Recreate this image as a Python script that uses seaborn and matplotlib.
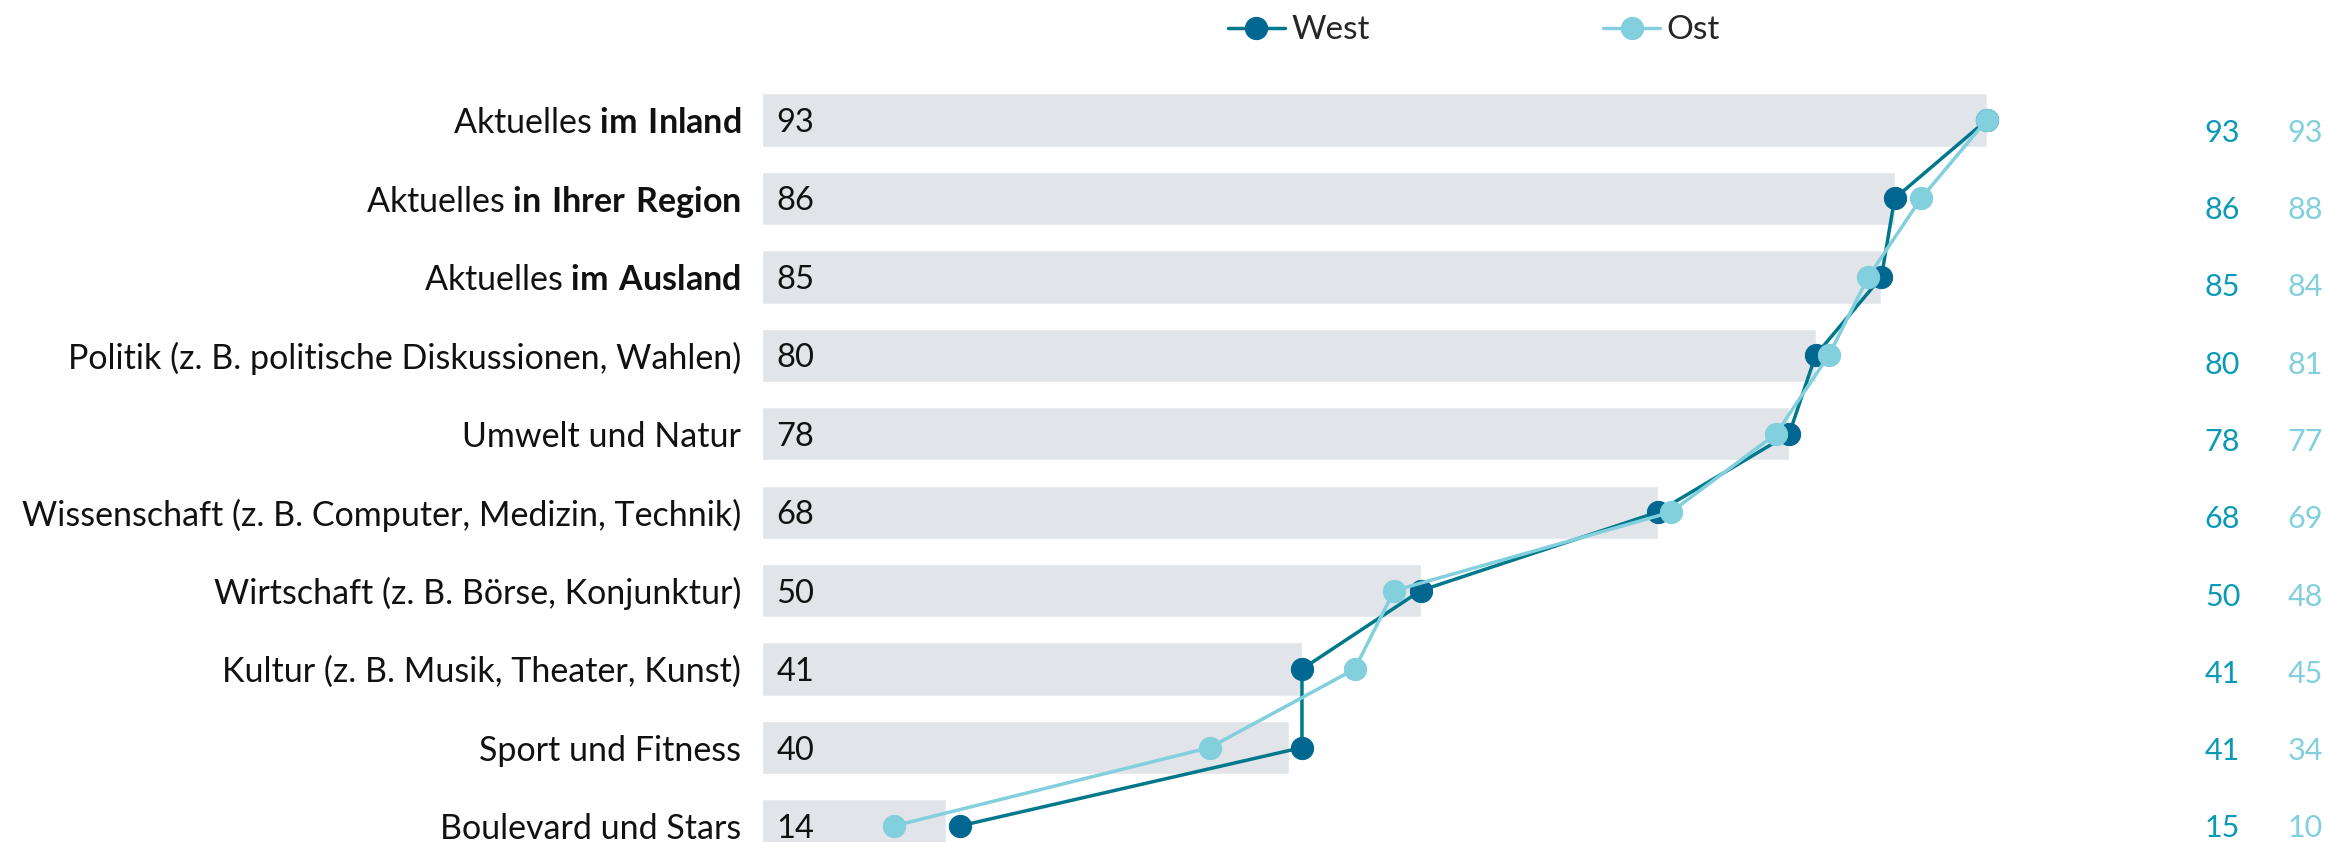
import matplotlib
matplotlib.use('Agg')
import numpy as np
import pandas as pd
import matplotlib.pyplot as plt
import seaborn as sns

# data
categories = [
    "Aktuelles im Inland",
    "Aktuelles in Ihrer Region",
    "Aktuelles im Ausland",
    "Politik (z. B. politische Diskussionen, Wahlen)",
    "Umwelt und Natur",
    "Wissenschaft (z. B. Computer, Medizin, Technik)",
    "Wirtschaft (z. B. Börse, Konjunktur)",
    "Kultur (z. B. Musik, Theater, Kunst)",
    "Sport und Fitness",
    "Boulevard und Stars",
]
tick_labels = [
    r"Aktuelles $\bf{im\ Inland}$",
    r"Aktuelles $\bf{in\ Ihrer\ Region}$",
    r"Aktuelles $\bf{im\ Ausland}$",
    "Politik (z. B. politische Diskussionen, Wahlen)",
    "Umwelt und Natur",
    "Wissenschaft (z. B. Computer, Medizin, Technik)",
    "Wirtschaft (z. B. Börse, Konjunktur)",
    "Kultur (z. B. Musik, Theater, Kunst)",
    "Sport und Fitness",
    "Boulevard und Stars",
]
gesamt = [93, 86, 85, 80, 78, 68, 50, 41, 40, 14]
west = [93, 86, 85, 80, 78, 68, 50, 41, 41, 15]
ost = [93, 88, 84, 81, 77, 69, 48, 45, 34, 10]

sns.set_theme(style="white")
plt.rcParams['font.family'] = ['Lato', 'DejaVu Sans']
plt.rcParams['mathtext.fontset'] = 'custom'
plt.rcParams['mathtext.rm'] = 'Lato'
plt.rcParams['mathtext.bf'] = 'Lato:bold'

BAR = "#E1E4E9"
WEST_LINE = "#00788C"
WEST_MARK = "#006890"
OST = "#82CFDD"
WEST_TXT = "#0A9AB5"
FS = 24.5

df = pd.DataFrame({"Kategorie": categories, "Gesamt": gesamt})
pos = np.arange(len(categories))

fig = plt.figure(figsize=(23.25, 8.42), dpi=100)
ax = fig.add_axes([762 / 2325, 0.0, 1 - 762 / 2325, (842 - 80) / 842])

sns.barplot(data=df, x="Gesamt", y="Kategorie", color=BAR, width=0.68,
            saturation=1, ax=ax, zorder=1)

sns.lineplot(x=west, y=pos, sort=False, estimator=None, color=WEST_LINE,
             linewidth=2.5, marker="o", markersize=16, markerfacecolor=WEST_MARK,
             markeredgecolor=WEST_MARK, ax=ax, zorder=3, label="West")
sns.lineplot(x=ost, y=pos, sort=False, estimator=None, color=OST,
             linewidth=2.5, marker="o", markersize=16, markerfacecolor=OST,
             markeredgecolor=OST, ax=ax, zorder=4, label="Ost")

ax.set_xlim(0, 1563 / 13.17)
ax.set_ylim(9 + 16 / 78.44, -40 / 78.44)
ax.set_yticks(pos)
ax.set_yticklabels(tick_labels, fontsize=FS, color="#111111")
ax.tick_params(axis="y", length=0, pad=15)
ax.set_xticks([])
ax.set_xlabel("")
ax.set_ylabel("")
for s in ax.spines.values():
    s.set_visible(False)

# values inside the bars
for i, v in enumerate(gesamt):
    ax.text(1.1, i, str(v), ha="left", va="center_baseline", fontsize=23.5,
            color="#111111", zorder=5)

# right-hand value columns (slightly tighter row spacing than the bars)
n = len(categories)
for i, (w, o) in enumerate(zip(west, ost)):
    yy = (n - 1) - ((n - 1) - i) * 77.3 / 78.44
    ax.text(110.9, yy, str(w), ha="center", va="center_baseline", fontsize=22, color=WEST_TXT)
    ax.text(117.2, yy, str(o), ha="center", va="center_baseline", fontsize=22, color=OST)

ax.get_legend().remove()
handles, labels = ax.get_legend_handles_labels()
fig.legend(handles, labels, loc="center", bbox_to_anchor=(0.634, 0.964), ncol=2,
           frameon=False, fontsize=24, handlelength=1.7, handletextpad=0.2,
           columnspacing=7.0, borderpad=0)

fig.savefig("out.png", dpi=100)
